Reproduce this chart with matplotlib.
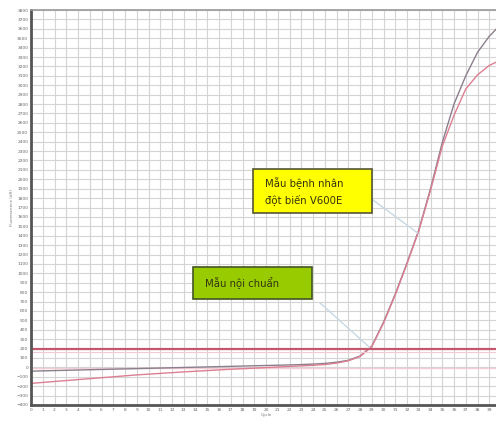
import numpy as np
import matplotlib.pyplot as plt
from matplotlib.patches import Rectangle

# cycles and fluorescence readings
cycles = list(range(0, 41))
mau_benh_nhan = [-40, -37, -34, -31, -28, -25, -22, -19, -16, -13,
                 -10, -7, -4, -1, 2, 5, 8, 11, 14, 17,
                 20, 23, 26, 30, 35, 42, 55, 75, 120, 225,
                 480, 780, 1110, 1460, 1900, 2390, 2800, 3100, 3350, 3520, 3650]
mau_noi_chuan = [-170, -160, -150, -140, -130, -120, -110, -100, -90, -80,
                 -72, -64, -56, -48, -41, -34, -27, -20, -14, -8,
                 -2, 4, 10, 16, 22, 30, 45, 70, 115, 220,
                 470, 770, 1100, 1450, 1880, 2350, 2680, 2960, 3110, 3210, 3270]
am_tinh = [-10] * 41
threshold = 200

x_ticks = list(range(0, 40))
y_ticks = list(range(-400, 3900, 100))

fig = plt.figure(figsize=(4.96, 4.24), dpi=100)
ax = fig.add_axes([31 / 496, 1 - 405 / 424, 470 / 496, 395 / 424])

ax.plot(cycles, am_tinh, color='#f2cdd5', lw=1.0)
ax.plot(cycles, mau_benh_nhan, color='#8c7f8c', lw=1.0)
ax.plot(cycles, mau_noi_chuan, color='#dc7f92', lw=1.0)
ax.axhline(threshold, color='#c4566e', lw=1.6)
ax.axhline(threshold - 40, color='#f3c9d2', lw=0.8)

ax.set_xlim(0, 40)
ax.set_ylim(-400, 3800)
ax.set_xticks(x_ticks)
ax.set_yticks(y_ticks)
ax.tick_params(labelsize=3.2, length=0, colors='#666666', pad=2)
ax.grid(True, color='#d4d4d4', lw=0.8)
ax.set_axisbelow(True)

for s in ['left', 'bottom']:
    ax.spines[s].set_color('#555555')
    ax.spines[s].set_linewidth(2)
ax.spines['top'].set_color('#999999')
ax.spines['top'].set_linewidth(1.2)
ax.spines['right'].set_visible(False)

ax.set_xlabel('Cycle', fontsize=3, color='#777777', labelpad=1)
ax.set_ylabel('Fluorescence (dR)', fontsize=3, color='#777777', labelpad=2)

# label boxes with leader lines
ax.plot([29.1, 32.9], [1780, 1430], color='#c8d8e2', lw=1)
ax.plot([24.6, 28.8], [685, 215], color='#c8d8e2', lw=1)

ax.add_patch(Rectangle((18.9, 1641), 10.1, 468, fc='#ffff00', ec='#555533', lw=1.2, zorder=5))
ax.text(19.9, 1875, 'Mẫu bệnh nhân\nđột biến V600E', fontsize=7.3, color='#333311',
        va='center', ha='left', linespacing=1.5, zorder=6)

ax.add_patch(Rectangle((13.8, 727), 10.1, 340, fc='#99cc00', ec='#445522', lw=1.2, zorder=5))
ax.text(14.8, 897, 'Mẫu nội chuẩn', fontsize=7.3, color='#333311',
        va='center', ha='left', zorder=6)

fig.savefig('out.png', dpi=100)
